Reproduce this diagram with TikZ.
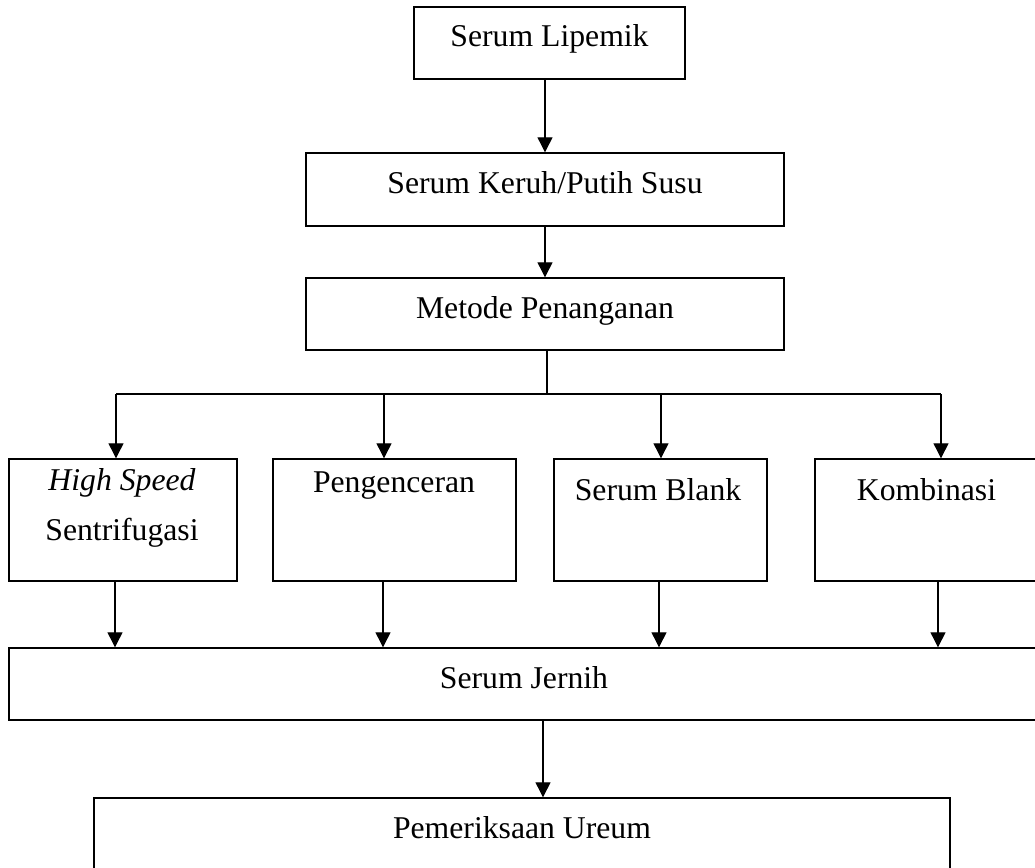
\documentclass[tikz,border=0pt]{standalone}
\usepackage{fontspec}
\setmainfont{Liberation Serif}
\usetikzlibrary{arrows.meta,calc}
\begin{document}
\begin{tikzpicture}[x=1pt,y=-1pt,
  box/.style={draw, line width=1.4pt, rectangle, inner sep=0pt},
  txt/.style={inner sep=0pt, anchor=base, font=\fontsize{31.7}{38}\selectfont},
  arr/.style={line width=1.2pt, -{Triangle[width=15pt,length=15pt]}},
  ln/.style={line width=1.2pt}]
\useasboundingbox (0,0) rectangle (1035,867);
\clip (0,0) rectangle (1035,867);
\fill[white] (0,0) rectangle (1035,867);

% boxes
\node[box, minimum width=271pt, minimum height=72pt] (lip) at (549.5,43) {};
\node[box, minimum width=478pt, minimum height=73pt] (keruh) at (545,189.5) {};
\node[box, minimum width=478pt, minimum height=72pt] (metode) at (545,314) {};
\node[box, minimum width=228pt, minimum height=122pt] (hs) at (123,520) {};
\node[box, minimum width=243pt, minimum height=122pt] (pen) at (394.5,520) {};
\node[box, minimum width=213pt, minimum height=122pt] (blank) at (660.5,520) {};
\node[box, minimum width=223pt, minimum height=122pt] (komb) at (926.5,520) {};
\node[box, minimum width=1030pt, minimum height=72pt] (jernih) at (524,684) {};
\node[box, minimum width=856pt, minimum height=90pt] (ureum) at (522,843) {};

% texts
\node[txt] (tlip) at (549.5,47) {Serum Lipemik};
\node[txt] (tkeruh) at (545,193) {Serum Keruh/Putih Susu};
\node[txt] (tmetode) at (545,318) {Metode Penanganan};
\node[txt] (ths1) at (122,490) {\itshape High Speed};
\node[txt] (ths2) at (122,540) {Sentrifugasi};
\node[txt] (tpen) at (394,492) {Pengenceran};
\node[txt] (tblank) at (658,500) {Serum Blank};
\node[txt] (tkomb) at (926.5,500) {Kombinasi};
\node[txt] (tjernih) at (524,688) {Serum Jernih};
\node[txt] (tureum) at (522,838) {Pemeriksaan Ureum};

% connector coordinates
\coordinate (bus) at (547,394);
\coordinate (a1) at (116,394);
\coordinate (a2) at (384,394);
\coordinate (a3) at (661,394);
\coordinate (a4) at (941,394);
\coordinate (b1) at (115,0);
\coordinate (b2) at (383,0);
\coordinate (b3) at (659,0);
\coordinate (b4) at (938,0);
\coordinate (c) at (543,0);

% connectors
\draw[arr] (lip.south -| keruh.north) -- (keruh.north);
\draw[arr] (keruh.south) -- (metode.north);
\draw[ln] (metode.south -| bus) -- (bus);
\draw[ln] (a1) -- (a4);
\draw[arr] (a1) -- (a1 |- hs.north);
\draw[arr] (a2) -- (a2 |- pen.north);
\draw[arr] (a3) -- (a3 |- blank.north);
\draw[arr] (a4) -- (a4 |- komb.north);
\draw[arr] (hs.south -| b1) -- (b1 |- jernih.north);
\draw[arr] (pen.south -| b2) -- (b2 |- jernih.north);
\draw[arr] (blank.south -| b3) -- (b3 |- jernih.north);
\draw[arr] (komb.south -| b4) -- (b4 |- jernih.north);
\draw[arr] (jernih.south -| c) -- (c |- ureum.north);
\end{tikzpicture}
\end{document}
